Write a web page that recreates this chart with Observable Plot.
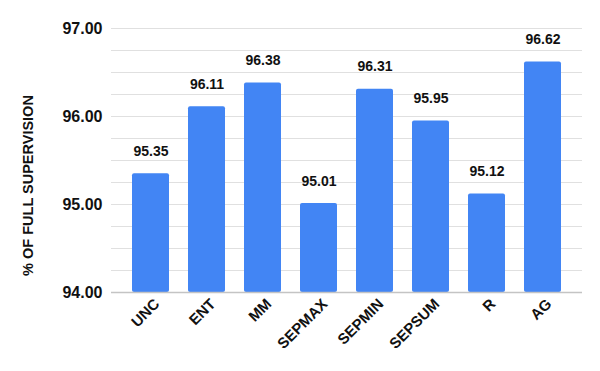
<!DOCTYPE html>
<html>
<head>
<meta charset="utf-8">
<script src="https://cdn.jsdelivr.net/npm/d3@7"></script>
<script src="https://cdn.jsdelivr.net/npm/@observablehq/plot@0.6"></script>
<style>
  html, body { margin: 0; padding: 0; background: #fff; }
  #chart svg { display: block; }
</style>
</head>
<body>
<div id="chart"></div>
<script>
const categories = ["UNC", "ENT", "MM", "SEPMAX", "SEPMIN", "SEPSUM", "R", "AG"];
const values = [95.35, 96.11, 96.38, 95.01, 96.31, 95.95, 95.12, 96.62];
const yTicks = [94, 95, 96, 97];
const gridTicks = [94.25, 94.5, 94.75, 95, 95.25, 95.5, 95.75, 96, 96.25, 96.5, 96.75, 97];
const yTitle = "% OF FULL SUPERVISION";

const data = categories.map((c, i) => ({ cat: c, value: values[i] }));

const chart = Plot.plot({
  width: 600,
  height: 371,
  marginLeft: 111,
  marginRight: 18,
  marginTop: 28,
  marginBottom: 79,
  style: { fontFamily: "'Liberation Sans', Arial, sans-serif", color: "#222", background: "#fff" },
  x: { domain: categories, paddingInner: 0.343, paddingOuter: 0.354, label: null },
  y: { domain: [94, 97], label: null },
  marks: [
    Plot.ruleY(gridTicks, { stroke: "#e0e0e0", strokeWidth: 1 }),
    Plot.barY(data, { x: "cat", y1: 94, y2: "value", fill: "#4285F4", rx: 2 }),
    Plot.ruleY([94], { stroke: "#c4c4c4", strokeWidth: 1.5 }),
    Plot.text(data, {
      x: "cat", y: "value", text: d => d.value.toFixed(2),
      dy: -18, lineAnchor: "bottom", textAnchor: "middle",
      fontSize: 14, fontWeight: "bold", fill: "#111"
    }),
    Plot.axisY({
      ticks: yTicks, tickFormat: d => d.toFixed(2), tickSize: 0, tickPadding: 9,
      fontSize: 16, fontWeight: "bold", fill: "#111", label: null
    }),
    Plot.text([yTitle], {
      frameAnchor: "left", text: d => d, rotate: -90,
      dx: -83, dy: 25, textAnchor: "middle", lineAnchor: "middle",
      fontSize: 14.5, fontWeight: "bold", fill: "#111"
    }),
    Plot.axisX({
      tickSize: 0, tickRotate: -45, tickPadding: 9, dx: 6,
      fontSize: 15, fontWeight: "bold", fill: "#111", label: null
    })
  ]
});

document.getElementById("chart").appendChild(chart);
</script>
</body>
</html>
